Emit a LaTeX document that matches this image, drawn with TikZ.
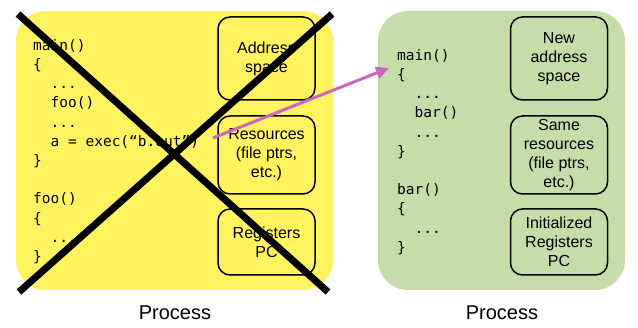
\documentclass[tikz,border=0pt]{standalone}
\usepackage{fontspec}
\setmainfont{Liberation Sans}
\setmonofont{DejaVu Sans Mono}
\usepackage{xcolor}
\usetikzlibrary{arrows.meta,positioning,calc}

\definecolor{procyellow}{RGB}{255,243,96}
\definecolor{procgreen}{RGB}{198,221,170}
\definecolor{execpink}{RGB}{206,102,190}

\begin{document}
\begin{tikzpicture}[x=1pt, y=-1pt,
  proc/.style={rounded corners=30pt, minimum width=#1, minimum height=279pt, inner sep=0pt},
  part/.style={draw, line width=1.5pt, rounded corners=12pt, minimum width=97pt,
               align=center, inner sep=0pt, font=\fontsize{16}{19}\selectfont},
  code/.style={anchor=north west, inner sep=0pt, align=left,
               font=\fontsize{14.5}{19.2}\selectfont\ttfamily},
  title/.style={font=\fontsize{20}{24}\selectfont},
  cross/.style={line width=7pt},
  arrow/.style={-{Triangle[length=13pt, width=12pt]}, line width=3pt, draw=execpink, fill=execpink}
]
\useasboundingbox (0,0) rectangle (638,328);

% Old process (left)
\node[proc=317pt, fill=procyellow] (oldproc) at (174.5,150.5) {};
\node[part, minimum height=83pt] (oldaddr) at (266.5,58.5) {Address\\space};
\node[part, minimum height=78pt] (oldres) at (266.5,155) {Resources\\(file ptrs,\\etc.)};
\node[part, minimum height=66pt] (oldreg) at (266.5,242) {Registers\\PC};
\node[code] (oldcode) at (33,39) {main()\\
\{\\
\ \ ...\\
\ \ foo()\\
\ \ ...\\
\ \ a = exec(“b.out”)\\
\}\\
\mbox{}\\
foo()\\
\{\\
\ \ ...\\
\}};
\node[title] (oldtitle) at (175,313) {Process};

% New process (right)
\node[proc=247pt, fill=procgreen] (newproc) at (501.5,150.5) {};
\node[part, minimum height=83pt] (newaddr) at (559,58.5) {New\\address\\space};
\node[part, minimum height=78pt] (newres) at (559,155) {Same\\resources\\(file ptrs,\\etc.)};
\node[part, minimum height=66pt] (newreg) at (559,242) {Initialized\\Registers\\PC};
\node[code] (newcode) at (397,49) {main()\\
\{\\
\ \ ...\\
\ \ bar()\\
\ \ ...\\
\}\\
\mbox{}\\
bar()\\
\{\\
\ \ ...\\
\}};
\node[title] (newtitle) at (502,313) {Process};

% Cross over the old process
\coordinate (xa) at (18,14);
\coordinate (xb) at (328,292);
\coordinate (xc) at (332,14);
\coordinate (xd) at (19,292);
\draw[cross] (xa) -- (xb);
\draw[cross] (xc) -- (xd);

% exec
\coordinate (execfrom) at (213,138);
\coordinate (execto) at (389,68);
\draw[arrow] (execfrom) -- (execto);
\end{tikzpicture}
\end{document}
